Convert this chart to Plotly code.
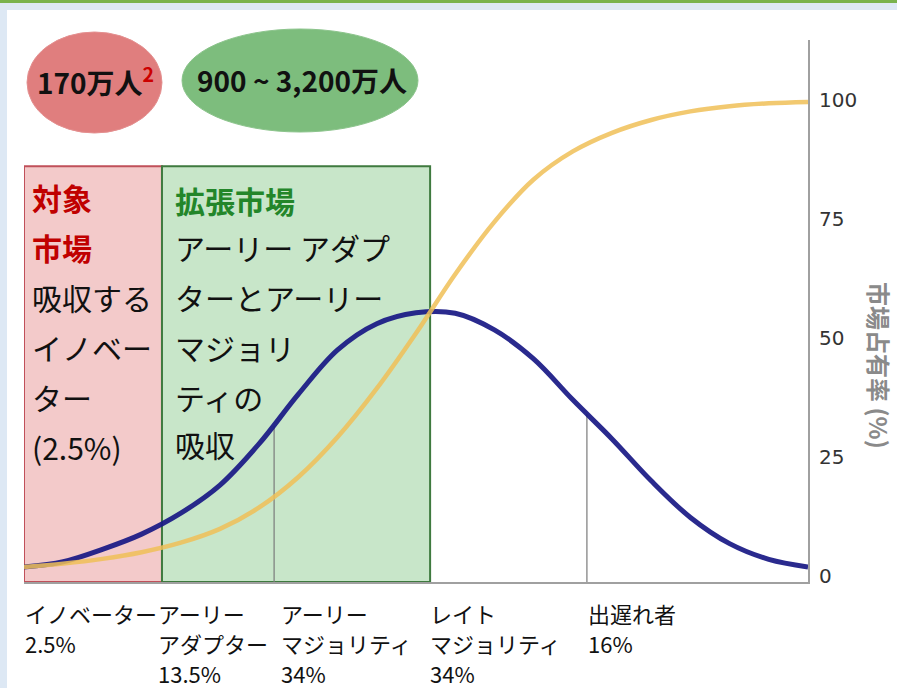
import plotly.graph_objects as go

# ---------------- data ----------------
x_pos = [0, 5, 10, 15, 20, 25, 30, 35, 40, 45, 50, 55, 60, 65, 70, 75, 80, 85, 90, 95, 100]
adopters = [1.9, 3.0, 5.6, 8.8, 13.2, 19.1, 27.8, 38.2, 47.5, 53.0, 55.3, 55.2, 51.7, 45.6,
            37.0, 28.8, 20.0, 12.3, 6.8, 3.5, 1.9]
market_share = [1.9, 2.6, 3.6, 5.0, 7.0, 9.9, 14.4, 20.8, 29.2, 39.4, 51.0, 63.4, 74.4, 83.3,
                89.2, 93.1, 95.8, 97.6, 98.7, 99.3, 99.6]

stage_bounds = [0, 17.6, 31.9, 51.8, 71.8, 100]
stage_names = [["イノベーター"], ["アーリー", "アダプター"], ["アーリー", "マジョリティ"],
               ["レイト", "マジョリティ"], ["出遅れ者"]]
stage_shares = ["2.5%", "13.5%", "34%", "34%", "16%"]
stage_label_x = [0.4, 17.3, 33.0, 52.0, 72.2]
divider_x = [31.9, 71.8]
divider_top = [31.5, 34.0]

y_ticks = [0, 25, 50, 75, 100]
y_title = "市場占有率 (%)"

target_title = ["対象", "市場"]
target_lines = ["吸収する", "イノベー", "ター", "(2.5%)"]
expand_title = ["拡張市場"]
expand_lines = ["アーリー アダプ", "ターとアーリー", "マジョリ", "ティの", "吸収"]
bubble_red = "170万人"
bubble_red_note = "2"
bubble_green = "900 ~ 3,200万人"

# ---------------- layout geometry ----------------
W, H = 897, 688
L, R, T, B = 24, 808, 40, 582
PW, PH = R - L, B - T
Y_MIN, Y_MAX = -1.26, 112.6
BOX_TOP = 86.1


def px_x(px):
    return (px - L) / PW


def px_y(py):
    return (B - py) / PH


JP = "Noto Sans CJK JP"

fig = go.Figure()
fig.add_trace(go.Scatter(x=x_pos, y=adopters, mode="lines",
                         line=dict(color="#1a1a86", width=5, shape="spline", smoothing=1.0),
                         opacity=0.93, hoverinfo="skip", showlegend=False))
fig.add_trace(go.Scatter(x=x_pos, y=market_share, mode="lines",
                         line=dict(color="#f0c058", width=4.5, shape="spline", smoothing=1.0),
                         opacity=0.85, hoverinfo="skip", showlegend=False))

shapes = []
# page decoration
shapes.append(dict(type="rect", xref="paper", yref="paper", x0=px_x(0), x1=px_x(7),
                   y0=px_y(H), y1=px_y(0), fillcolor="#dde8f4", line_width=0, layer="below"))
shapes.append(dict(type="rect", xref="paper", yref="paper", x0=px_x(0), x1=px_x(W),
                   y0=px_y(10), y1=px_y(0), fillcolor="#dde8f4", line_width=0, layer="below"))
shapes.append(dict(type="rect", xref="paper", yref="paper", x0=px_x(0), x1=px_x(W),
                   y0=px_y(3), y1=px_y(0), fillcolor="#7ab24c", line_width=0, layer="below"))
# market boxes
shapes.append(dict(type="rect", xref="x", yref="y", x0=stage_bounds[0], x1=stage_bounds[1],
                   y0=Y_MIN, y1=BOX_TOP, fillcolor="#f3caca",
                   line=dict(color="#c0505a", width=2), layer="below"))
shapes.append(dict(type="rect", xref="x", yref="y", x0=stage_bounds[1], x1=stage_bounds[3],
                   y0=Y_MIN, y1=BOX_TOP, fillcolor="#c8e6c9",
                   line=dict(color="#3f7a3f", width=2), layer="below"))
# divider lines
for dx, dt in zip(divider_x, divider_top):
    shapes.append(dict(type="line", xref="x", yref="y", x0=dx, x1=dx, y0=Y_MIN, y1=dt,
                       line=dict(color="#7a7a7a", width=1.2), layer="below"))
# bubbles
shapes.append(dict(type="circle", xref="paper", yref="paper", x0=px_x(27), x1=px_x(162),
                   y0=px_y(133), y1=px_y(32), fillcolor="#e07e7e",
                   line=dict(color="#e49090", width=1), layer="below"))
shapes.append(dict(type="circle", xref="paper", yref="paper", x0=px_x(182), x1=px_x(418),
                   y0=px_y(132), y1=px_y(29), fillcolor="#7dbd7d",
                   line=dict(color="#8cc48c", width=1), layer="below"))

ann = []
ann.append(dict(xref="paper", yref="paper", x=px_x(95), y=px_y(80), xanchor="center", yanchor="middle",
                text=f"<b>{bubble_red}<sup><span style='color:#cc0000'>{bubble_red_note}</span></sup></b>",
                showarrow=False, font=dict(family=JP, size=28, color="#111111")))
ann.append(dict(xref="paper", yref="paper", x=px_x(302), y=px_y(80), xanchor="center", yanchor="middle",
                text=f"<b>{bubble_green}</b>", showarrow=False,
                font=dict(family=JP, size=28, color="#111111")))

row_y = [197, 247, 297, 347, 397, 447]
XS = -4
for i, t in enumerate(target_title):
    ann.append(dict(xref="paper", yref="paper", x=px_x(34), y=px_y(row_y[i]), xanchor="left",
                    yanchor="middle", text=f"<b>{t}</b>", showarrow=False, xshift=XS,
                    font=dict(family=JP, size=30, color="#c00000")))
for i, t in enumerate(target_lines):
    ann.append(dict(xref="paper", yref="paper", x=px_x(34), y=px_y(row_y[i + 2]), xanchor="left",
                    yanchor="middle", text=t, showarrow=False, xshift=XS,
                    font=dict(family=JP, size=30, color="#111111")))
for i, t in enumerate(expand_title):
    ann.append(dict(xref="paper", yref="paper", x=px_x(177), y=px_y(row_y[i] + 3), xanchor="left",
                    yanchor="middle", text=f"<b>{t}</b>", showarrow=False, xshift=XS,
                    font=dict(family=JP, size=30, color="#23862a")))
for i, t in enumerate(expand_lines):
    ann.append(dict(xref="paper", yref="paper", x=px_x(177), y=px_y(row_y[i + 1] - (3 if i == 4 else 0)),
                    xanchor="left", yanchor="middle", text=t, showarrow=False, xshift=XS,
                    font=dict(family=JP, size=30, color="#111111")))

bottom_rows = [613, 643, 673]
for sx, names, share in zip(stage_label_x, stage_names, stage_shares):
    lines = names + [share]
    for j, t in enumerate(lines):
        ann.append(dict(xref="x", yref="paper", x=sx, y=px_y(bottom_rows[j]), xanchor="left",
                        yanchor="middle", text=t, showarrow=False, xshift=XS,
                        font=dict(family=JP, size=22, color="#111111")))

# axis title (placed as rotated text, as in the original)
ann.append(dict(xref="paper", yref="paper", x=px_x(880), y=px_y(365), xanchor="center",
                yanchor="middle", text=f"<b>{y_title}</b>", textangle=90, showarrow=False,
                font=dict(family=JP, size=24, color="#8a8a8a")))

fig.update_layout(
    width=W, height=H,
    margin=dict(l=L, r=W - R, t=T, b=H - B, pad=0),
    paper_bgcolor="white", plot_bgcolor="rgba(0,0,0,0)",
    shapes=shapes, annotations=ann, showlegend=False,
    xaxis=dict(range=[0, 100], showgrid=False, zeroline=False, showticklabels=False,
               showline=True, linecolor="#a0a0a0", linewidth=2, ticks="", fixedrange=True),
    yaxis=dict(range=[Y_MIN, Y_MAX], side="right", showgrid=False, zeroline=False,
               showline=True, linecolor="#a0a0a0", linewidth=2, ticks="",
               tickvals=y_ticks, ticktext=[str(v) for v in y_ticks],
               tickfont=dict(family="DejaVu Sans", size=20, color="#333333"),
               ticklabelstandoff=5, fixedrange=True),
)

fig.write_html("out.html", config={"displayModeBar": False},
               post_script="document.body.style.margin='0px';")
